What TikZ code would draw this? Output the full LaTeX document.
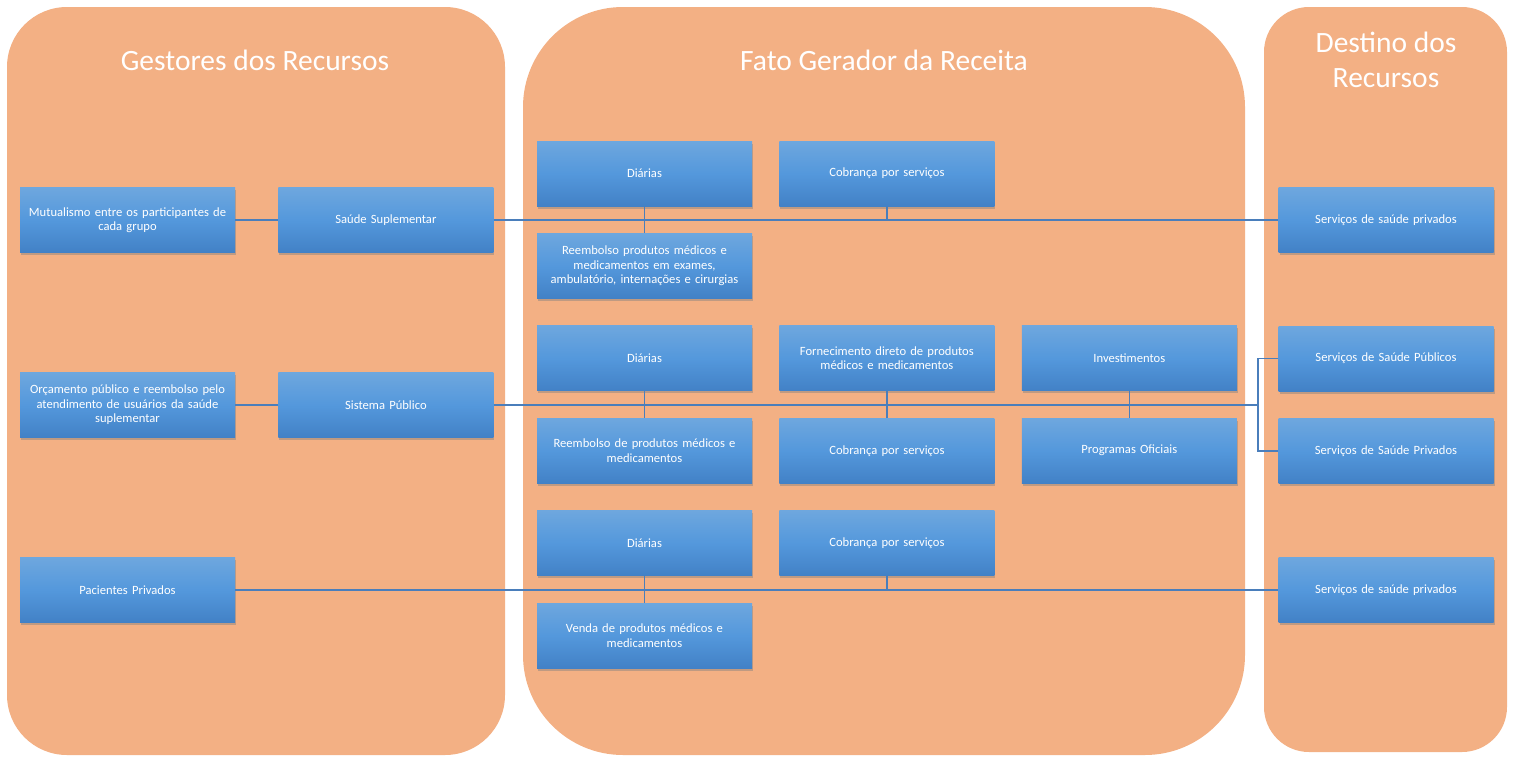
\documentclass[tikz,border=0pt]{standalone}
\usepackage{fontspec}
\setmainfont{Carlito}
\usetikzlibrary{positioning,shadows}

\definecolor{panelorange}{HTML}{F3B084}
\definecolor{boxtop}{HTML}{6EA7DE}
\definecolor{boxmid}{HTML}{5498DC}
\definecolor{boxbot}{HTML}{4281C6}
\definecolor{linkblue}{HTML}{4A7EBB}

\begin{document}
\begin{tikzpicture}[x=1pt, y=-1pt, node distance=27pt and 27pt,
  panel/.style={fill=panelorange},
  heading/.style={text=white, font=\fontsize{29.5}{35}\selectfont, align=center},
  item/.style={rectangle, minimum width=215pt, minimum height=65pt, text width=206pt,
    inner sep=2pt, align=center, text=white, font=\fontsize{12.6}{14.5}\selectfont,
    top color=boxtop, bottom color=boxbot, middle color=boxmid,
    drop shadow={opacity=0.45, shadow xshift=1pt, shadow yshift=-2.5pt}},
  link/.style={draw=linkblue, line width=1.4pt}]
  \useasboundingbox (0,0) rectangle (1515,758);

  % background panels
  \fill[panel, rounded corners=60] (7,7) rectangle (505,755);
  \fill[panel, rounded corners=100] (523,7) rectangle (1245,755);
  \fill[panel, rounded corners=45] (1264,7) rectangle (1507,752);

  \node[heading] (hgest) at (255,60) {Gestores dos Recursos};
  \node[heading] (hfato) at (884,60) {Fato Gerador da Receita};
  \node[heading] (hdest) at (1386,60) {Destino dos\\Recursos};

  % gestores
  \node[item] (mutual) at (127.5,220) {Mutualismo entre os participantes de\\cada grupo};
  \node[item, right=of mutual, xshift=16pt] (supl) {Saúde Suplementar};
  \node[item] (orcam) at (127.5,405) {Orçamento público e reembolso pelo\\atendimento de usuários da saúde\\suplementar};
  \node[item, right=of orcam, xshift=16pt] (sus) {Sistema Público};
  \node[item] (pacpriv) at (127.5,590) {Pacientes Privados};

  % fato gerador
  \node[item] (diar1) at (644.5,173.5) {Diárias};
  \node[item, right=of diar1] (cobr1) {Cobrança por serviços};
  \node[item, below=of diar1] (reemb1) {Reembolso produtos médicos e\\medicamentos em exames,\\ambulatório, internações e cirurgias};
  \node[item, below=of reemb1] (diar2) {Diárias};
  \node[item, right=of diar2] (forn) {Fornecimento direto de produtos\\médicos e medicamentos};
  \node[item, right=of forn] (invest) {Investimentos};
  \node[item, below=of diar2] (reemb2) {Reembolso de produtos médicos e\\medicamentos};
  \node[item, right=of reemb2] (cobr2) {Cobrança por serviços};
  \node[item, right=of cobr2] (progof) {Programas Oficiais};
  \node[item, below=of reemb2] (diar3) {Diárias};
  \node[item, right=of diar3] (cobr3) {Cobrança por serviços};
  \node[item, below=of diar3] (venda) {Venda de produtos médicos e\\medicamentos};

  % destino
  \node[item] (priv1) at (1386,220) {Serviços de saúde privados};
  \node[item] (spub) at (1386,358.5) {Serviços de Saúde Públicos};
  \node[item, below=of spub] (spriv) {Serviços de Saúde Privados};
  \node[item] (priv2) at (1386,590) {Serviços de saúde privados};

  % connectors
  \coordinate (split) at (1258,405);
  \draw[link] (mutual) -- (supl);
  \draw[link] (supl.east) -- (priv1.west);
  \draw[link] (diar1) -- (reemb1);
  \draw[link] (cobr1.south) -- (cobr1.south |- supl.east);
  \draw[link] (orcam) -- (sus);
  \draw[link] (sus.east) -- (split);
  \draw[link] (split) |- (spub.west);
  \draw[link] (split) |- (spriv.west);
  \draw[link] (diar2) -- (reemb2);
  \draw[link] (forn) -- (cobr2);
  \draw[link] (invest) -- (progof);
  \draw[link] (pacpriv.east) -- (priv2.west);
  \draw[link] (diar3) -- (venda);
  \draw[link] (cobr3.south) -- (cobr3.south |- pacpriv.east);
\end{tikzpicture}
\end{document}
